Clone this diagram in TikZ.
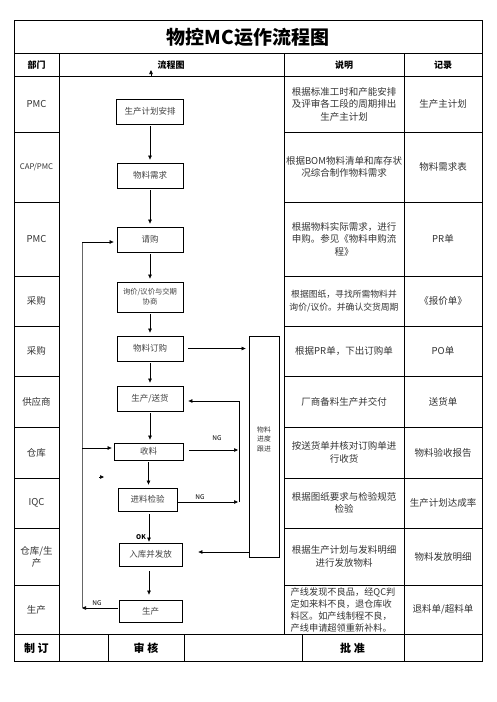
\documentclass[tikz,border=0pt]{standalone}
\usepackage{fontspec}
\setmainfont{Noto Sans CJK SC}
\usetikzlibrary{arrows.meta}

\begin{document}
\begin{tikzpicture}[x=1pt, y=-1pt,
		grid/.style={black, line width=0.8pt},
		flowbox/.style={draw, line width=0.8pt, minimum width=66pt, minimum height=25pt, inner sep=1pt, font=\fontsize{8.5}{9}\selectfont, text=black!75, align=center},
		arr/.style={-{Triangle[length=4pt, width=3.5pt]}, line width=0.6pt},
		loopline/.style={black!60, line width=0.9pt},
		dept/.style={font=\fontsize{9.5}{12}\selectfont, text=black!80, align=center},
		note/.style={font=\fontsize{9.5}{12.5}\selectfont, text=black!80, align=center},
		rec/.style={font=\fontsize{9.5}{12}\selectfont, text=black!80},
		head/.style={font=\fontsize{9}{10}\selectfont\bfseries},
		sign/.style={font=\fontsize{11}{12}\selectfont\bfseries},
		ng/.style={font=\fontsize{6.5}{7}\selectfont, inner sep=1pt}
		]
		
		\useasboundingbox (0,0) rectangle (496,702);
		
		% 表格框线
		\draw[grid] (14,20) rectangle (482,661);
		\draw[grid] (14,53) -- (482,53);
		\draw[grid] (14,76) -- (482,76);
		\draw[grid] (59,53) -- (59,661);
		\draw[grid] (284,53) -- (284,634);
		\draw[grid] (404,53) -- (404,661);
		\draw[grid] (14,132) -- (59,132) (284,132) -- (482,132);
		\draw[grid] (14,202) -- (59,202) (284,202) -- (482,202);
		\draw[grid] (14,276) -- (59,276) (284,276) -- (482,276);
		\draw[grid] (14,326) -- (59,326) (284,326) -- (482,326);
		\draw[grid] (14,376) -- (59,376) (284,376) -- (482,376);
		\draw[grid] (14,427) -- (59,427) (284,427) -- (482,427);
		\draw[grid] (14,478) -- (59,478) (284,478) -- (482,478);
		\draw[grid] (14,528) -- (59,528) (284,528) -- (482,528);
		\draw[grid] (14,585) -- (59,585) (284,585) -- (482,585);
		\draw[grid] (14,634) -- (482,634);
		\draw[grid] (108,634) -- (108,661);
		\draw[grid] (184,634) -- (184,661);
		\draw[grid] (302,634) -- (302,661);
		
		% 标题与表头
		\node[font=\fontsize{19}{20}\selectfont\bfseries] (title) at (248,37) {物控MC运作流程图};
		\node[head] (hdept) at (36.5,65) {部门};
		\node[head] (hflow) at (171,65) {流程图};
		\node[head] (hnote) at (344,65) {说明};
		\node[head] (hrec) at (443,65) {记录};
		
		% 部门
		\node[dept] (d1) at (36.5,104) {PMC};
		\node[dept, font=\fontsize{7.8}{10}\selectfont] (d2) at (36.5,167) {CAP/PMC};
		\node[dept] (d3) at (36.5,239) {PMC};
		\node[dept] (d4) at (36.5,301) {采购};
		\node[dept] (d5) at (36.5,351) {采购};
		\node[dept] (d6) at (36.5,401.5) {供应商};
		\node[dept] (d7) at (36.5,452.5) {仓库};
		\node[dept] (d8) at (36.5,503) {IQC};
		\node[dept] (d9) at (36.5,556.5) {仓库/生\\产};
		\node[dept] (d10) at (36.5,609.5) {生产};
		
		% 流程框
		\node[flowbox, minimum width=67pt] (plan) at (150,111.5) {生产计划安排};
		\node[flowbox] (need) at (150,175.5) {物料需求};
		\node[flowbox] (req) at (150,239.5) {请购};
		\node[flowbox, minimum height=30pt, font=\fontsize{7.3}{10}\selectfont] (quote) at (150,297) {询价/议价与交期\\协商};
		\node[flowbox] (order) at (150,348.5) {物料订购};
		\node[flowbox] (deliver) at (150,398.5) {生产/送货};
		\node[flowbox, minimum width=69pt, minimum height=17pt] (recv) at (148.5,451.5) {收料};
		\node[flowbox, minimum width=59pt, minimum height=23pt] (iqc) at (147.5,499.5) {进料检验};
		\node[flowbox, minimum width=63pt, minimum height=23pt] (store) at (150.5,554.5) {入库并发放};
		\node[flowbox, minimum width=63pt, minimum height=22pt] (prod) at (150.5,611) {生产};
		\node[draw, line width=0.8pt, minimum width=30pt, minimum height=221pt] (track) at (264,446.5) {};
		\node[font=\fontsize{6.8}{9.5}\selectfont, text=black!80, align=center] (tracktxt) at (264,439) {物料\\进度\\跟进};
		
		% 流程箭头
		\draw[arr, shorten <=2pt, shorten >=3pt] (plan.south) -- (plan.south |- need.north);
		\draw[arr, shorten <=2pt, shorten >=3pt] (need) -- (req);
		\draw[arr, shorten <=2pt, shorten >=3pt] (req) -- (quote);
		\draw[arr, shorten <=2pt, shorten >=3pt] (quote) -- (order);
		\draw[arr, shorten <=2pt, shorten >=3pt] (order) -- (deliver);
		\draw[arr, shorten <=2pt, shorten >=3pt] (deliver.south) -- (deliver.south |- recv.north);
		\draw[arr, shorten <=2pt, shorten >=3pt] (recv.south) -- (recv.south |- iqc.north);
		\draw[arr, shorten <=3pt, shorten >=1pt] (iqc.south -| 149,0) -- (store.north -| 149,0);
		\node[ng, font=\fontsize{6.5}{7}\selectfont\bfseries] (ok) at (141,537.5) {OK};
		\draw[arr, shorten <=5pt, shorten >=5pt] (store.south -| 149,0) -- (prod.north -| 149,0);
		
		% 物料跟进
		\draw[arr, shorten <=5pt, shorten >=3pt] (order.east) -- (order.east -| track.west);
		\coordinate (ngtop) at (239,401);
		\coordinate (ngbot) at (239,502);
		\draw[line width=0.6pt] (ngbot) -- (ngtop);
		\draw[arr, shorten >=5pt] (ngtop) -- (ngtop -| deliver.east);
		\draw[arr, shorten <=6pt, shorten >=1pt] (recv.east |- 0,450) -- (ngtop |- 0,450);
		\node[ng] (ng1) at (217,438) {NG};
		\draw[arr, shorten <=1pt, shorten >=1pt] (iqc.east |- ngbot) -- (ngbot);
		\node[ng] (ng2) at (200,497) {NG};
		\draw[arr, shorten >=16pt] (track.west |- 0,552) -- (store.east |- 0,552);
		
		% 左侧回路
		\coordinate (ltop) at (82,242);
		\coordinate (lmid) at (82,448);
		\coordinate (lbot) at (82,608);
		\draw[arr, shorten <=1pt] (prod.west |- lbot) -- (lbot);
		\node[ng] (ng3) at (97,603.5) {NG};
		\draw[loopline] (lbot) -- (ltop);
		\draw[arr, shorten >=3pt] (ltop) -- (ltop -| req.west);
		\draw[arr, shorten >=2pt] (lmid) -- (lmid -| recv.west);
		
		% 零散箭头
		\draw[arr] (99,477) -- (104,477);
		\draw[arr] (151,76) -- (151,70);
		
		% 说明
		\node[note] (n1) at (344,104) {根据标准工时和产能安排\\及评审各工段的周期排出\\生产主计划};
		\node[note] (n2) at (344,167) {根据BOM物料清单和库存状\\况综合制作物料需求};
		\node[note] (n3) at (344,239) {根据物料实际需求，进行\\申购。参见《物料申购流\\程》};
		\node[note, font=\fontsize{8.8}{12.5}\selectfont] (n4) at (344,301) {根据图纸，寻找所需物料并\\询价/议价。并确认交货周期};
		\node[note] (n5) at (344,351) {根据PR单，下出订购单};
		\node[note] (n6) at (344,401.5) {厂商备料生产并交付};
		\node[note] (n7) at (344,452.5) {按送货单并核对订购单进\\行收货};
		\node[note] (n8) at (344,503) {根据图纸要求与检验规范\\检验};
		\node[note] (n9) at (344,556.5) {根据生产计划与发料明细\\进行发放物料};
		\node[note, align=left, font=\fontsize{9.2}{11.8}\selectfont] (n10) at (343,610) {产线发现不良品，经QC判\\定如来料不良，退仓库收\\料区。如产线制程不良，\\产线申请超领重新补料。};
		
		% 记录
		\node[rec] (r1) at (443,104) {生产主计划};
		\node[rec] (r2) at (443,167) {物料需求表};
		\node[rec] (r3) at (443,239) {PR单};
		\node[rec] (r4) at (443,301) {《报价单》};
		\node[rec] (r5) at (443,351) {PO单};
		\node[rec] (r6) at (443,401.5) {送货单};
		\node[rec] (r7) at (443,452.5) {物料验收报告};
		\node[rec] (r8) at (443,503) {生产计划达成率};
		\node[rec] (r9) at (443,556.5) {物料发放明细};
		\node[rec] (r10) at (443,609.5) {退料单/超料单};
		
		% 签核栏
		\node[sign] (f1) at (36.5,648) {制\ 订};
		\node[sign] (f2) at (146,648) {审\ 核};
		\node[sign] (f3) at (352.5,648) {批\ 准};
		
	\end{tikzpicture}
\end{document}
